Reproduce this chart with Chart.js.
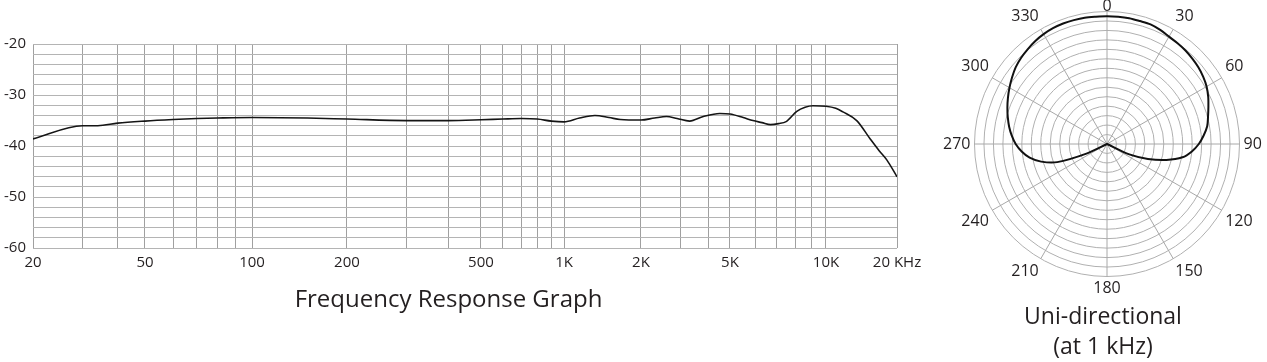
<!DOCTYPE html>
<html><head><meta charset="utf-8">
<script src="https://cdn.jsdelivr.net/npm/chart.js@4/dist/chart.umd.min.js"></script>
<style>
html,body{margin:0;padding:0;background:#fff;overflow:hidden;width:1267px;height:362px;position:relative}
#freq{position:absolute;left:0;top:0}
#polar{position:absolute;left:933px;top:-5px}
</style></head><body>
<canvas id="freq" width="930" height="320"></canvas>
<canvas id="polar" width="340" height="371"></canvas>
<script>
// ---------- Frequency response data ----------
const freqHz = [20, 30, 34, 40, 50, 60, 70, 80, 100, 150, 200, 300, 400, 500, 600, 700, 800, 900, 1000,
  1150, 1320, 1500, 1660, 2000, 2300, 2600, 2900, 3300, 3800, 4500, 5000, 5500, 5900, 6300, 6700, 7100,
  7500, 8100, 8600, 9100, 10000, 11000, 11800, 13500, 15400, 16800, 18100, 20000];
const responseDb = [-38.6, -36.0, -36.0, -35.5, -35.1, -34.8, -34.6, -34.5, -34.4, -34.5, -34.7, -35.0, -35.0, -34.85, -34.7, -34.6, -34.7, -35.1, -35.25,
  -34.5, -34.0, -34.4, -34.8, -34.9, -34.5, -34.2, -34.6, -35.1, -34.2, -33.6, -33.7, -34.4, -35.0, -35.4, -35.8, -35.6,
  -35.2, -33.2, -32.4, -32.1, -32.2, -32.6, -33.3, -35.0, -38.6, -40.9, -42.7, -46.0];
const gridFreqs = [20, 30, 40, 50, 60, 70, 80, 90, 100, 200, 300, 400, 500, 600, 700, 800, 900, 1000,
  2000, 3000, 4000, 5000, 6000, 7000, 8000, 9000, 10000, 20000];
const labeledFreqs = [20, 50, 100, 200, 500, 1000, 2000, 5000, 10000, 20000];
const labeledText = ['20', '50', '100', '200', '500', '1K', '2K', '5K', '10K', '20 KHz'];
const dbMin = -60, dbMax = -20, dbStep = 2, dbLabelEvery = 10;
const freqTitle = 'Frequency Response Graph';

// The printed frequency axis is not a pure log axis: each labeled segment has its own width.
const axisAnchorFreqs = [20, 50, 100, 200, 500, 1000, 2000, 5000, 10000, 20000];
const axisAnchorFrac  = [0, 0.1296, 0.2535, 0.3634, 0.5185, 0.6146, 0.7037, 0.8067, 0.9178, 1];

// ---------- Polar pattern data (level on 14-ring grid) ----------
const polarAngles = [0,5,10,15,20,25,30,35,40,45,50,55,60,65,70,75,80,85,90,95,100,105,110,115,120,
  125,130,135,140,145,150,155,160,165,170,175,180,185,190,195,200,205,210,215,220,225,230,235,
  240,245,250,255,260,265,270,275,280,285,290,295,300,305,310,315,320,325,330,335,340,345,350,355];
const polarLevel = [13.5,13.5,13.5,13.45,13.45,13.3,13.1,13.0,12.9,12.75,12.6,12.4,12.15,11.8,11.4,11.05,10.75,10.25,9.7,9.0,8.1,6.5,4.6,2.6,0,
  0,0,0,0,0,0,0,0,0,0,0,0,0,0,0,0,0,0,0,0,0,0,0,
  0,2.4,5.6,7.2,8.3,9.05,9.65,10.1,10.5,10.85,11.2,11.55,11.9,12.25,12.6,12.85,13.05,13.25,13.4,13.5,13.55,13.55,13.55,13.5];
const polarLabelEvery = 6; // label and spoke every 30 degrees
const polarRings = 14;
const polarTitle = ['Uni-directional', '(at 1 kHz)'];

// ---------- Custom warped log scale ----------
const LogScale = Chart.LogarithmicScale || Chart.registry.getScale('logarithmic');
function warpDecimal(v) {
  const F = axisAnchorFreqs, A = axisAnchorFrac;
  if (v <= F[0]) return A[0] + (A[1]-A[0]) * Math.log(v/F[0]) / Math.log(F[1]/F[0]);
  for (let i = 0; i < F.length - 1; i++) {
    if (v <= F[i+1]) return A[i] + (A[i+1]-A[i]) * Math.log(v/F[i]) / Math.log(F[i+1]/F[i]);
  }
  const n = F.length - 1;
  return A[n] + (A[n]-A[n-1]) * Math.log(v/F[n]) / Math.log(F[n]/F[n-1]);
}
function unwarp(d) {
  const F = axisAnchorFreqs, A = axisAnchorFrac;
  for (let i = 0; i < F.length - 1; i++) {
    if (d <= A[i+1] || i === F.length - 2) return F[i] * Math.pow(F[i+1]/F[i], (d - A[i]) / (A[i+1]-A[i]));
  }
}
class WarpLogScale extends LogScale {
  static id = 'warpLog';
  static defaults = LogScale.defaults;
  getPixelForValue(value) { return this.getPixelForDecimal(warpDecimal(value)); }
  getValueForPixel(pixel) { return unwarp(this.getDecimalForPixel(pixel)); }
}
Chart.register(WarpLogScale);

Chart.defaults.font.family = '"Open Sans", "Noto Sans", sans-serif';
Chart.defaults.color = '#231f20';

new Chart(document.getElementById('freq'), {
  type: 'line',
  data: { datasets: [{
    data: freqHz.map((f, i) => ({ x: f, y: responseDb[i] })),
    borderColor: '#151515', borderWidth: 1.6, pointRadius: 0, fill: false,
    cubicInterpolationMode: 'monotone'
  }] },
  options: {
    responsive: false, animation: false,
    layout: { padding: { top: 44, right: 33, left: 0, bottom: 0 } },
    plugins: {
      legend: { display: false }, tooltip: { enabled: false },
      title: { display: true, position: 'bottom', text: freqTitle, color: '#231f20',
        font: { size: 24, weight: 'normal' }, padding: { top: 8, bottom: 5 } }
    },
    scales: {
      x: {
        type: 'warpLog', min: 20, max: 20000,
        afterBuildTicks: s => { s.ticks = gridFreqs.map(v => ({ value: v })); },
        afterFit: s => { s.height = 30; },
        ticks: { autoSkip: false, maxRotation: 0, minRotation: 0, padding: 6, font: { size: 15 }, color: '#231f20',
          callback: v => { const k = labeledFreqs.indexOf(v); return k >= 0 ? labeledText[k] : ''; } },
        grid: { color: '#a0a0a0', drawTicks: false },
        border: { display: false }
      },
      y: {
        min: dbMin, max: dbMax,
        afterFit: s => { s.width = 33; },
        ticks: { stepSize: dbStep, autoSkip: false, padding: 7, font: { size: 15 }, color: '#231f20',
          callback: v => (v % dbLabelEvery === 0 ? String(v) : '') },
        grid: { color: '#b4b4b4', drawTicks: false },
        border: { display: false }
      }
    }
  }
});

new Chart(document.getElementById('polar'), {
  type: 'radar',
  data: { labels: polarAngles.map(String), datasets: [{
    data: polarLevel, borderColor: '#111', borderWidth: 2, pointRadius: 0, fill: false, tension: 0.3
  }] },
  options: {
    responsive: false, animation: false,
    plugins: {
      legend: { display: false }, tooltip: { enabled: false },
      title: { display: true, position: 'bottom', text: polarTitle, color: '#231f20',
        font: { size: 23, weight: 'normal', lineHeight: 1.3 }, padding: { top: 0, bottom: 4 } }
    },
    scales: {
      r: {
        min: 0, max: polarRings,
        ticks: { display: false, stepSize: 1 },
        grid: { color: '#b0b0b0', circular: true },
        angleLines: { display: true, color: '#a8a8a8', lineWidth: c => (c.index % polarLabelEvery === 0 ? 1 : 0) },
        pointLabels: { display: true, color: '#231f20',
          padding: c => (c.index === 0 ? -5 : (c.index === 36 ? 2.5 : 4)),
          font: c => ({ size: c.index % polarLabelEvery === 0 ? 16 : 1 }),
          callback: (l, i) => (i % polarLabelEvery === 0 ? l : '') }
      }
    }
  }
});
</script>
</body></html>
